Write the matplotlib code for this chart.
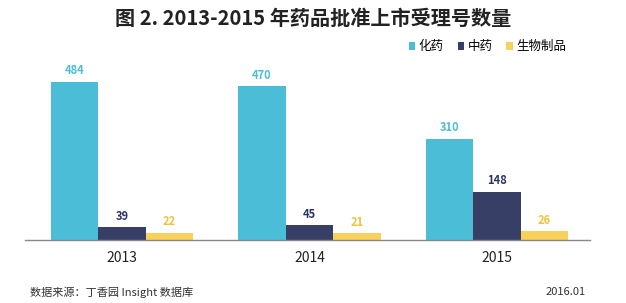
import matplotlib
matplotlib.use('Agg')
import matplotlib.pyplot as plt
import numpy as np

plt.rcParams['font.family'] = ['Noto Sans CJK SC', 'DejaVu Sans']

years = ['2013', '2014', '2015']
series = ['化药', '中药', '生物制品']
chem = [484, 470, 310]
tcm = [39, 45, 148]
bio = [22, 21, 26]
colors = ['#4bbdd6', '#383f66', '#f7d15c']
label_colors = ['#4bbdd6', '#2c3466', '#f2c23c']

fig = plt.figure(figsize=(6.26, 3.03), dpi=100)
ax = fig.add_axes([0.040, 0.208, 0.9025, 0.594])

x = np.arange(len(years))
w = 0.253
for i, (vals, c, lc, name) in enumerate(zip([chem, tcm, bio], colors, label_colors, series)):
    xs = x + (i - 1) * w
    ax.bar(xs, vals, width=w, color=c, label=name)
    for xi, v in zip(xs, vals):
        ax.text(xi, v + 14, str(v), ha='center', va='bottom', fontsize=8,
                fontweight='bold', color=lc)

ax.set_xlim(-0.517, 2.496)
ax.set_ylim(0, 551)
ax.set_yticks([])
ax.set_xticks(x)
ax.set_xticklabels(years, fontsize=10, color='#222222')
ax.tick_params(axis='x', length=0, pad=8)
for s in ['top', 'right', 'left']:
    ax.spines[s].set_visible(False)
ax.spines['bottom'].set_color('#888888')
ax.spines['bottom'].set_linewidth(1)

fig.text(0.5, 0.94, '图 2. 2013-2015 年药品批准上市受理号数量', ha='center', va='center',
         fontsize=14.5, fontweight='bold', color='#222222')

leg = fig.legend(loc='center left', bbox_to_anchor=(0.635, 0.845), ncol=3, frameon=False,
                 fontsize=9, handlelength=0.5, handleheight=0.5, handletextpad=0.3,
                 columnspacing=1.1)

fig.text(0.048, 0.035, '数据来源：丁香园 Insight 数据库', ha='left', va='center', fontsize=8, color='#333333')
fig.text(0.935, 0.035, '2016.01', ha='right', va='center', fontsize=8, color='#333333')

fig.savefig('out.png', dpi=100)
